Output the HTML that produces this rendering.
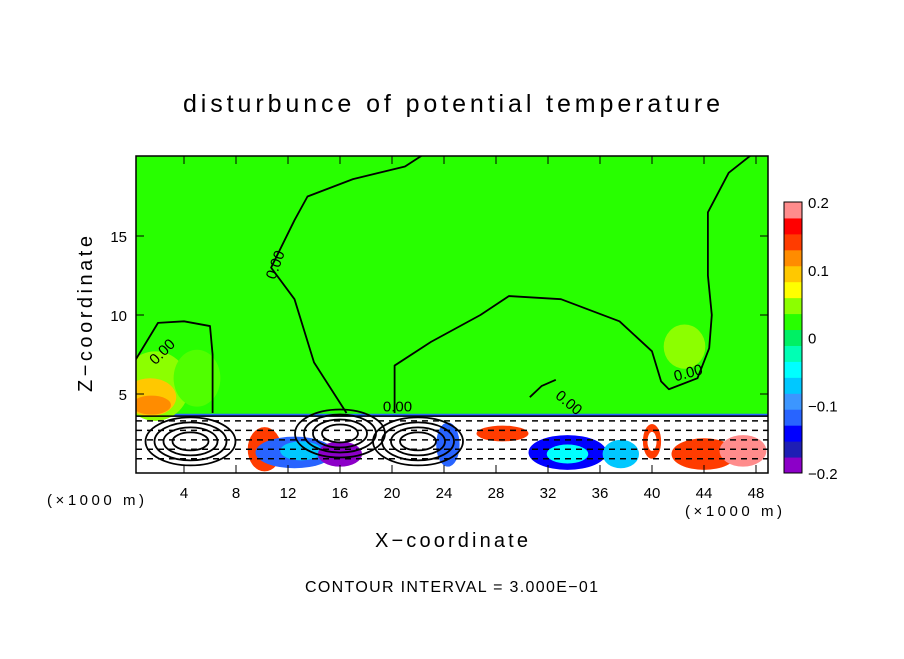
<!DOCTYPE html>
<html><head><meta charset="utf-8">
<style>
body{margin:0;background:#fff;}
svg text{font-family:"Liberation Sans","DejaVu Sans",sans-serif;}
</style></head>
<body>
<svg id="chart" width="904" height="654" viewBox="0 0 904 654" xmlns="http://www.w3.org/2000/svg">
<defs><clipPath id="pc"><rect x="136" y="156" width="632" height="317"/></clipPath></defs>
<text x="183" y="112" font-size="25" textLength="537" lengthAdjust="spacing">disturbunce of potential temperature</text>
<g id="plot" clip-path="url(#pc)"></g>
<rect x="136" y="156" width="632" height="317" fill="none" stroke="#000" stroke-width="1.5"/>
<g id="axes"></g>
<g id="cbar"></g>
<text x="47" y="505" font-size="15" textLength="97">(×1000 m)</text>
<text x="685" y="516" font-size="15" textLength="97">(×1000 m)</text>
<text x="375" y="547" font-size="20" textLength="153">X−coordinate</text>
<text x="92" y="392" font-size="20" textLength="156" transform="rotate(-90 92 392)">Z−coordinate</text>
<text x="305" y="592" font-size="16" textLength="293">CONTOUR INTERVAL = 3.000E−01</text>
</svg>
<script>
const xTicks=[4,8,12,16,20,24,28,32,36,40,44,48];
const zTicks=[5,10,15];
const cbTicks=[0.2,0.1,0,-0.1,-0.2];
const cbColors=["#8c00c8","#1e1eb4","#0000ff","#2864ff","#3c96ff","#00c8ff","#00ffff","#00ffb4","#00f064","#28ff00","#8cff00","#ffff00","#ffc800","#ff8c00","#ff3c00","#ff0000","#ff8c8c"];
const zeroLineA=[[0.3,7.2],[2,9.5],[4,9.6],[6,9.3],[6.2,7.5],[6.2,3.8]];
const zeroLineB=[[16.5,3.8],[14,7],[12.5,11],[10.7,13],[12.5,16],[13.5,17.5],[17,18.6],[21,19.4],[22.5,20.2]];
const zeroLineC=[[20.2,3.8],[20.2,6.8],[23,8.3],[26.8,10],[29,11.2],[33,11],[37.5,9.6],[40,7.7],[40.7,5.8],[41.3,5.3],[43.5,6],[44.4,7.9],[44.6,10],[44.3,12.5],[44.3,16.5],[45.9,19],[47.9,20.3]];
const zeroLineD=[[30.6,4.8],[31.5,5.5],[32.6,5.9]];
const blobs=[[1.8,5.5,2.6,2.2,"#8cff00"],[1.4,4.8,2,1.2,"#ffc800"],[1.5,4.3,1.5,0.6,"#ff8c00"],[5,6,1.8,1.8,"#50ff00"],[42.5,8,1.6,1.4,"#8cff00"],[10.2,1.5,1.3,1.4,"#ff3c00"],[12.5,1.3,3,1,"#2864ff"],[13,1.4,1.6,0.6,"#00c8ff"],[16,1.2,1.7,0.8,"#8c00c8"],[24.3,1.8,0.9,1.4,"#2864ff"],[28.5,2.5,2,0.5,"#ff3c00"],[33.5,1.3,3,1.1,"#0000ff"],[33.5,1.2,1.6,0.6,"#00ffff"],[40,2,0.7,1.1,"#ff3c00"],[40,2,0.35,0.6,"#fff"],[44,1.2,2.5,1,"#ff3c00"],[47,1.4,1.8,1,"#ff8c8c"],[37.6,1.2,1.4,0.9,"#00c8ff"]];
const X=v=>132+13*v, Z=v=>473-15.8*v;
const ns="http://www.w3.org/2000/svg";
function mk(t,a,p){const e=document.createElementNS(ns,t);for(const k in a)e.setAttribute(k,a[k]);p.appendChild(e);return e;}
const plot=document.getElementById('plot'),axes=document.getElementById('axes'),cbar=document.getElementById('cbar');
let bg=mk('rect',{x:136,y:156,width:632,height:317,fill:"#28ff00"},plot);


let wl=mk('rect',{x:136,y:Z(3.6),width:632,height:Z(0)-Z(3.6),fill:"#fff"},plot);


let bl=mk('rect',{x:136,y:Z(3.75),width:632,height:3,fill:"#2864ff"},plot);


blobs.forEach(b=>{const e=mk('ellipse',{cx:X(b[0]),cy:Z(b[1]),rx:b[2]*13,ry:b[3]*15.8,fill:b[4]},plot);

});
for(let r=0;r<5;r++){const e=mk('line',{x1:136,x2:768,y1:Z(3.3-r*0.6),y2:Z(3.3-r*0.6),stroke:"#000","stroke-dasharray":"6 5","stroke-width":1.5},plot);

}
const sl=mk('line',{x1:136,x2:768,y1:Z(3.6),y2:Z(3.6),stroke:"#000","stroke-width":1.5},plot);


[[4.5,2],[16,2.5],[22,2]].forEach(c=>{for(let i=0;i<4;i++){const e=mk('ellipse',{cx:X(c[0]),cy:Z(c[1]),rx:18+i*9,ry:9+i*5,fill:"none",stroke:"#000","stroke-width":1.8},plot);

}});
[zeroLineA,zeroLineB,zeroLineC,zeroLineD].forEach(l=>{const p=mk('polyline',{points:l.map(q=>X(q[0])+","+Z(q[1])).join(" "),fill:"none",stroke:"#000","stroke-width":1.8,"stroke-linejoin":"round"},plot);

});
[[1.8,6.8,-45],[11,12.2,-70],[32.5,4.8,40],[41.8,5.8,-15],[19.3,3.9,0]].forEach(l=>{const t=mk('text',{x:X(l[0]),y:Z(l[1]),"font-size":15,transform:`rotate(${l[2]} ${X(l[0])} ${Z(l[1])})`},axes);t.textContent="0.00";

});
xTicks.forEach(v=>{const x=X(v);mk('line',{x1:x,x2:x,y1:473,y2:465,stroke:"#000"},axes);mk('line',{x1:x,x2:x,y1:156,y2:164,stroke:"#000"},axes);
const t=mk('text',{x:x,y:498,"font-size":15,"text-anchor":"middle"},axes);t.textContent=v;

});
zTicks.forEach(v=>{const y=Z(v);mk('line',{x1:136,x2:144,y1:y,y2:y,stroke:"#000"},axes);mk('line',{x1:760,x2:768,y1:y,y2:y,stroke:"#000"},axes);
const t=mk('text',{x:127,y:y+6,"font-size":15,"text-anchor":"end"},axes);t.textContent=v;

});
const cbTop=202,cbBot=473,n=cbColors.length,h=(cbBot-cbTop)/n;
cbColors.forEach((c,i)=>{const r=mk('rect',{x:784,y:cbBot-(i+1)*h,width:18,height:h+0.5,fill:c},cbar);

});
mk('rect',{x:784,y:cbTop,width:18,height:cbBot-cbTop,fill:"none",stroke:"#000"},cbar);
cbTicks.forEach(v=>{const y=cbBot-(v+0.2)/0.4*(cbBot-cbTop);const t=mk('text',{x:808,y:y+6,"font-size":15},cbar);t.textContent=v===0?"0":(v<0?"−"+Math.abs(v):v);

});
</script>
</body></html>
